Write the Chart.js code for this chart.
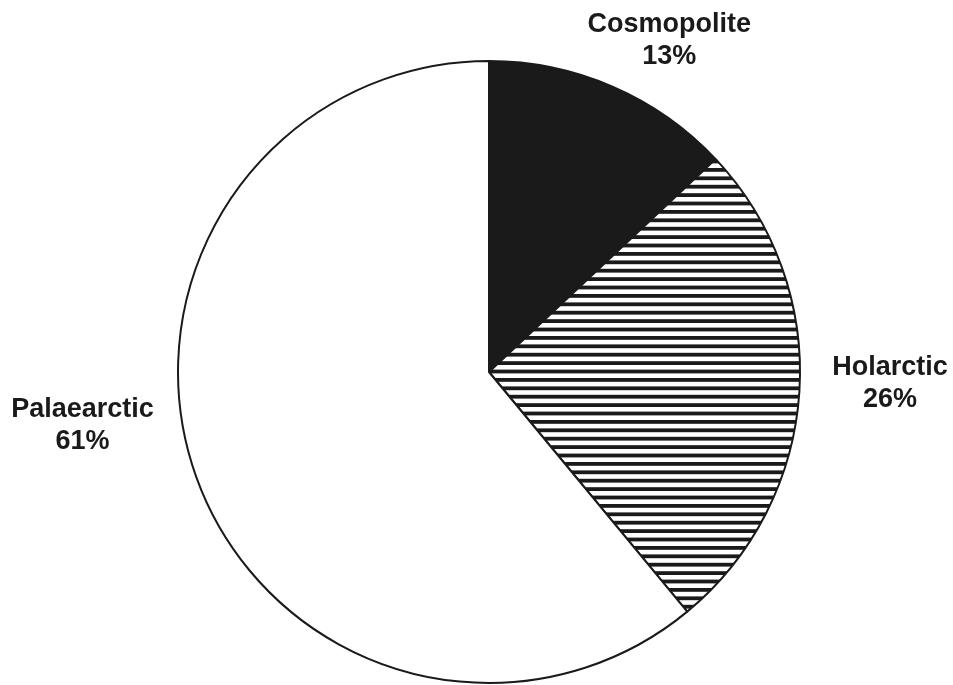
<!DOCTYPE html>
<html>
<head>
<meta charset="utf-8">
<script src="https://cdn.jsdelivr.net/npm/chart.js@4"></script>
<style>
  html, body { margin: 0; padding: 0; background: #fff; }
  #wrap { width: 953px; height: 685px; position: relative; }
</style>
</head>
<body>
<div id="wrap"><canvas id="chart" width="953" height="685"></canvas></div>
<script>
// Chart data
const regions = ['Cosmopolite', 'Holarctic', 'Palaearctic'];
const shares = [13, 26, 61];

// Label placement around the pie (angle in degrees from top, clockwise; distance in px from centre to first baseline)
const labelAngle = [27.9, 90.4, 263.7];
const labelDist = [385, 401, 409];

// Horizontal hatching for the Holarctic slice (5 stripes per 42px tile)
function makeHatch() {
    const c = document.createElement('canvas');
    c.width = 8;
    c.height = 42;
    const g = c.getContext('2d');
    g.fillStyle = '#fff';
    g.fillRect(0, 0, 8, 42);
    g.fillStyle = '#1a1a1a';
    for (let k = 0; k < 5; k++) {
        g.fillRect(0, k * 8.4, 8, 3.8);
    }
    return g.createPattern(c, 'repeat');
}

// Draw category name + percentage outside each slice
const outerLabels = {
    id: 'outerLabels',
    afterDraw(chart) {
        const ctx = chart.ctx;
        const arcs = chart.getDatasetMeta(0).data;
        ctx.save();
        ctx.fillStyle = '#1a1a1a';
        ctx.textAlign = 'center';
        ctx.textBaseline = 'alphabetic';
        ctx.font = 'bold 27px "Liberation Sans", Arial, sans-serif';
        arcs.forEach((arc, i) => {
            const a = labelAngle[i] * Math.PI / 180;
            const x = arc.x + Math.sin(a) * labelDist[i];
            const y = arc.y - Math.cos(a) * labelDist[i];
            ctx.fillText(regions[i], x, y);
            ctx.fillText(shares[i] + '%', x, y + 32);
        });
        ctx.restore();
    }
};

const ctx = document.getElementById('chart').getContext('2d');
new Chart(ctx, {
    type: 'pie',
    data: {
        labels: regions,
        datasets: [{
            data: shares,
            backgroundColor: ['#1a1a1a', makeHatch(), '#ffffff'],
            borderColor: '#1a1a1a',
            borderWidth: 2
        }]
    },
    options: {
        responsive: false,
        animation: false,
        layout: { padding: { top: 60, bottom: 1, left: 177, right: 152 } },
        plugins: {
            legend: { display: false },
            tooltip: { enabled: false }
        }
    },
    plugins: [outerLabels]
});
</script>
</body>
</html>
